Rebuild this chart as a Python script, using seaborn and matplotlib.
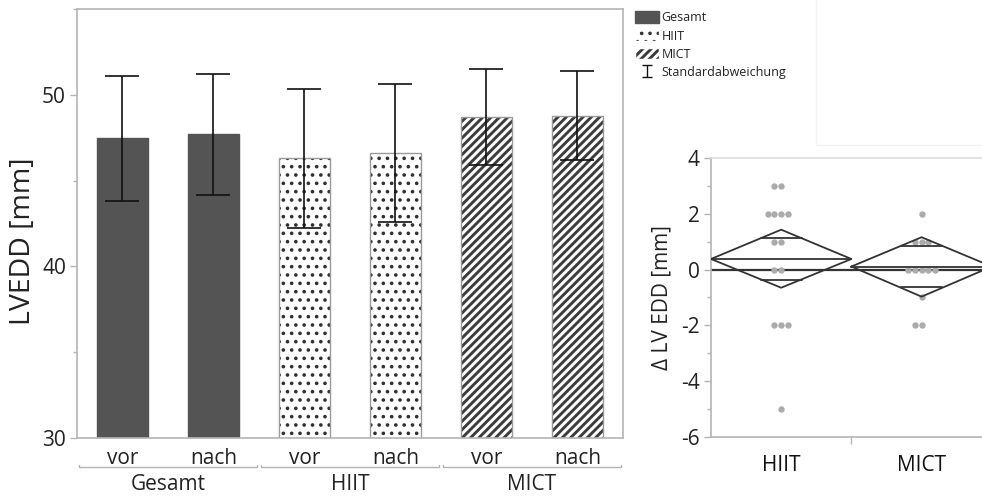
import matplotlib
matplotlib.use("Agg")
import matplotlib.pyplot as plt
import matplotlib.patches as mpatches
import matplotlib.transforms as mtrans
import numpy as np
import pandas as pd
import seaborn as sns

# ---------------- data ----------------
gruppen = ["Gesamt", "Gesamt", "HIIT", "HIIT", "MICT", "MICT"]
zeitpunkte = ["vor", "nach", "vor", "nach", "vor", "nach"]
lvedd_mittel = [47.47, 47.70, 46.30, 46.63, 48.73, 48.80]
lvedd_sd = [3.66, 3.51, 4.07, 4.01, 2.79, 2.57]
gruppen_namen = ["Gesamt", "HIIT", "MICT"]

delta_hiit = [3, 3, 2, 2, 2, 2, 1, 1, 0, 0, -2, -2, -2, -5]
delta_mict = [2, 1, 1, 1, 0, 0, 0, 0, 0, -1, -2, -2]
diamant_gruppen = ["HIIT", "MICT"]
diamant_mittel = [0.38, 0.11]
diamant_unten = [-0.65, -0.97]
diamant_oben = [1.43, 1.16]
gesamt_mittel_delta = 0.0

# ---------------- style ----------------
sns.set_theme(style="white")
plt.rcParams["font.family"] = ["Open Sans", "DejaVu Sans"]
plt.rcParams["axes.unicode_minus"] = False
TXT = "#222222"
SPINE = "#b4b4b4"

fill = {"Gesamt": "#545454", "HIIT": "white", "MICT": "white"}
hatch = {"Gesamt": None, "HIIT": "..", "MICT": "////"}
hcol = {"Gesamt": "#545454", "HIIT": "#303030", "MICT": "#3c3c3c"}
hlw = {"Gesamt": 1.0, "HIIT": 1.4, "MICT": 2.1}


def style_hatch(p, g):
    if not hatch[g]:
        return
    p.set_hatch(hatch[g])
    try:
        p.set_hatchcolor(hcol[g])
    except Exception:
        p._hatch_color = matplotlib.colors.to_rgba(hcol[g])
    try:
        p.set_hatch_linewidth(hlw[g])
    except Exception:
        p._hatch_linewidth = hlw[g]


fig = plt.figure(figsize=(9.82, 5.01), dpi=100)
ax1 = fig.add_axes([0.0784, 0.1257, 0.556, 0.856])
ax2 = fig.add_axes([0.724, 0.1277, 0.286, 0.557])

# ---------------- left panel ----------------
df = pd.DataFrame({
    "key": [f"{g}_{z}" for g, z in zip(gruppen, zeitpunkte)],
    "gruppe": gruppen, "zeit": zeitpunkte,
    "mittel": lvedd_mittel, "sd": lvedd_sd,
})
sns.barplot(data=df, x="key", y="mittel", ax=ax1, width=0.55,
            color="#555555", errorbar=None, saturation=1)
for patch, g in zip(ax1.patches, df["gruppe"]):
    patch.set_facecolor(fill[g])
    patch.set_edgecolor("#9a9a9a" if g != "Gesamt" else "#545454")
    patch.set_linewidth(1.0)
    style_hatch(patch, g)

ax1.errorbar(np.arange(len(df)), df["mittel"], yerr=df["sd"], fmt="none",
             ecolor="#111111", elinewidth=1.2, capsize=12.5, capthick=1.2,
             zorder=5)
# small errorbar (outside the view) used only as legend symbol
eb_leg = ax1.errorbar([-10], [40], yerr=[1], fmt="none", ecolor="#111111",
                      elinewidth=1.0, capsize=3.5, capthick=1.0)

ax1.set_ylim(30, 55)
ax1.set_xlim(-0.5, len(df) - 0.5)
ax1.set_yticks([30, 40, 50])
ax1.set_yticks([35, 45, 55], minor=True)
ax1.set_xticks(np.arange(len(df)))
ax1.set_xticklabels(df["zeit"])
ax1.set_xlabel("")
ax1.set_ylabel("LVEDD [mm]", fontsize=20.5, color=TXT)
ax1.yaxis.set_label_coords(-0.073, 0.46)
ax1.tick_params(axis="y", which="both", left=True, length=5, width=1,
                color=SPINE, labelsize=15, labelcolor=TXT, pad=3)
ax1.tick_params(axis="y", which="minor", length=3)
ax1.tick_params(axis="x", bottom=False, labelsize=15, labelcolor=TXT, pad=1)
for s in ax1.spines.values():
    s.set_color(SPINE)
    s.set_linewidth(1.2)
    s.set_visible(True)

# group brackets and labels
trans = mtrans.blended_transform_factory(ax1.transData, ax1.transAxes)
for i, name in enumerate(gruppen_namen):
    x0, x1 = 2 * i - 0.5 + 0.02, 2 * i + 1.5 - 0.02
    ax1.plot([x0, x0, x1, x1], [-0.064, -0.068, -0.068, -0.064], transform=trans,
             color=SPINE, lw=1.0, clip_on=False)
    ax1.text(2 * i + 0.5, -0.108, name, transform=trans, ha="center",
             va="center", fontsize=15, color=TXT)

# legend
lp = []
for g in gruppen_namen:
    p = mpatches.Patch(facecolor=fill[g], edgecolor=fill[g], label=g)
    style_hatch(p, g)
    lp.append(p)
handles = lp + [eb_leg]
leg = fig.legend(handles=handles, labels=["Gesamt", "HIIT", "MICT", "Standardabweichung"],
                 loc="upper left", bbox_to_anchor=(0.638, 0.995), frameon=False,
                 fontsize=9, handlelength=1.9, handleheight=1.0,
                 handletextpad=0.2, labelspacing=0.42, borderpad=0.2)
for t in leg.get_texts():
    t.set_color(TXT)
for h, g in zip(leg.legend_handles[:3], gruppen_namen):
    style_hatch(h, g)

# faint frame top right
fig.add_artist(mpatches.Rectangle((0.831, 0.71), 0.2, 0.3, transform=fig.transFigure,
                                  fill=False, edgecolor="#f3f3f3", lw=1))

# ---------------- right panel ----------------
dd = pd.DataFrame({
    "gruppe": ["HIIT"] * len(delta_hiit) + ["MICT"] * len(delta_mict),
    "delta": delta_hiit + delta_mict,
})
sns.swarmplot(data=dd, x="gruppe", y="delta", order=diamant_gruppen, ax=ax2,
              color="#ababab", size=4.6, linewidth=0, zorder=2)

ax2.axhline(gesamt_mittel_delta, color="#333333", lw=1.6, zorder=1)
for i, (m, lo, hi) in enumerate(zip(diamant_mittel, diamant_unten, diamant_oben)):
    xs = [i - 0.5, i, i + 0.5, i, i - 0.5]
    ys = [m, hi, m, lo, m]
    ax2.plot(xs, ys, color="#333333", lw=1.3, zorder=3)
    ax2.plot([i - 0.5, i + 0.5], [m, m], color="#333333", lw=1.3, zorder=3)
    half = (hi - m) / np.sqrt(2)
    for yv in (m + half, m - half):
        frac = 1 - abs(yv - m) / (hi - m)
        ax2.plot([i - 0.5 * frac, i + 0.5 * frac], [yv, yv], color="#333333",
                 lw=1.3, zorder=3)

ax2.set_xlim(-0.5, 1.5)
ax2.set_ylim(-6, 4)
ax2.set_yticks([-6, -4, -2, 0, 2, 4])
ax2.set_yticks([-5, -3, -1, 1, 3], minor=True)
ax2.set_xticks([0.5], minor=True)
ax2.set_xlabel("")
ax2.set_ylabel("Δ LV EDD [mm]", fontsize=15, color=TXT, labelpad=6)
ax2.tick_params(axis="y", which="both", left=True, length=5, width=1,
                color=SPINE, labelsize=15, labelcolor=TXT, pad=3)
ax2.tick_params(axis="y", which="minor", length=3)
ax2.tick_params(axis="x", which="major", bottom=False, labelsize=15,
                labelcolor="#111111", pad=7)
ax2.tick_params(axis="x", which="minor", bottom=True, length=5, width=1, color=SPINE)
for name, s in ax2.spines.items():
    s.set_color(SPINE)
    s.set_linewidth(1.2)
    s.set_visible(True)
ax2.spines["top"].set_color("#dddddd")

fig.savefig("out.png", dpi=100)
